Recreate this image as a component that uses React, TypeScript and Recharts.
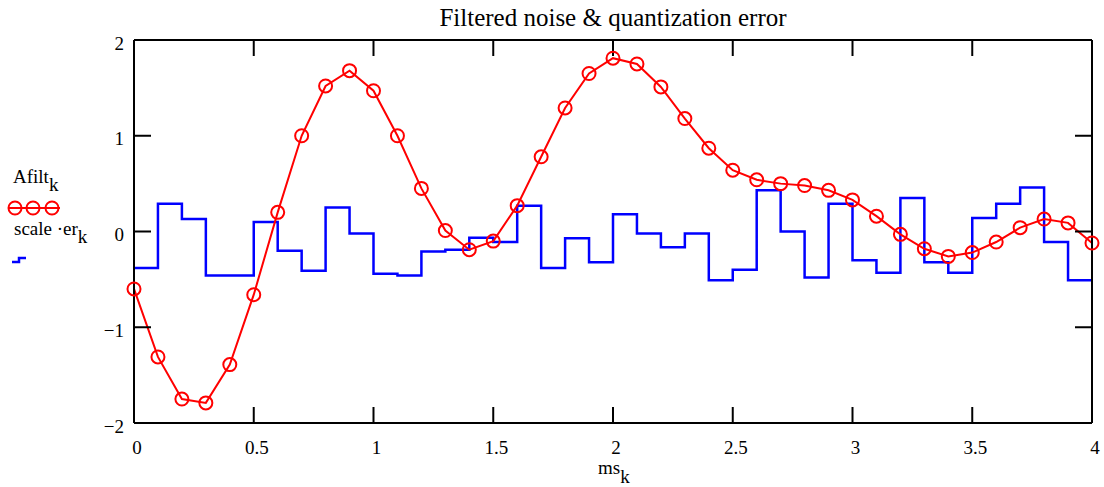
import { ComposedChart, Line, XAxis, YAxis } from 'recharts';

// time axis ms_k, k = 0..40
const ms = [
  0, 0.1, 0.2, 0.3, 0.4, 0.5, 0.6, 0.7, 0.8, 0.9,
  1, 1.1, 1.2, 1.3, 1.4, 1.5, 1.6, 1.7, 1.8, 1.9,
  2, 2.1, 2.2, 2.3, 2.4, 2.5, 2.6, 2.7, 2.8, 2.9,
  3, 3.1, 3.2, 3.3, 3.4, 3.5, 3.6, 3.7, 3.8, 3.9, 4,
];

// filtered noise (red, circles)
const afilt = [
  -0.6, -1.31, -1.75, -1.79, -1.39, -0.66, 0.2, 1.0, 1.52, 1.68,
  1.47, 1.0, 0.45, 0.01, -0.19, -0.1, 0.27, 0.78, 1.29, 1.65,
  1.81, 1.75, 1.51, 1.18, 0.87, 0.64, 0.54, 0.5, 0.48, 0.43,
  0.33, 0.16, -0.03, -0.18, -0.26, -0.22, -0.11, 0.04, 0.13, 0.09, -0.12,
];

// scaled quantization error (blue, step); last value repeats to close the final step
const scaleEr = [
  -0.38, 0.29, 0.13, -0.46, -0.46, 0.1, -0.2, -0.41, 0.25, -0.02,
  -0.44, -0.46, -0.21, -0.19, -0.065, -0.11, 0.27, -0.38, -0.07, -0.32,
  0.18, -0.02, -0.165, -0.02, -0.51, -0.4, 0.43, 0.0, -0.48, 0.29,
  -0.3, -0.43, 0.35, -0.32, -0.43, 0.14, 0.29, 0.46, -0.11, -0.51, -0.51,
];

const xTicks = [0, 0.5, 1, 1.5, 2, 2.5, 3, 3.5, 4];
const yTicks = [-2, -1, 0, 1, 2];

const FONT = '"Liberation Serif", "Times New Roman", serif';
const RED = '#ff0000';
const BLUE = '#0000ff';

const data = ms.map((m, i) => ({ ms: m, afilt: afilt[i], scaleEr: scaleEr[i] }));

const fmtY = (v: number) => (v < 0 ? `\u2212${-v}` : `${v}`);

const tickStyle = { fill: '#000', fontSize: 19, fontFamily: FONT };
const axisLine = { stroke: '#000', strokeWidth: 2 };
const noLabel = () => <g />;

export default function App() {
  return (
    <div style={{ position: 'absolute', left: 0, top: 0, width: 1104, height: 487, background: '#fff' }}>
      <ComposedChart
        width={1104}
        height={487}
        data={data}
        margin={{ top: 38, right: 0, left: 0, bottom: 0 }}
      >
        <XAxis
          xAxisId={0}
          dataKey="ms"
          type="number"
          domain={[0, 4]}
          ticks={xTicks}
          interval={0}
          height={64}
          tickSize={-16}
          tickMargin={34}
          axisLine={axisLine}
          tickLine={axisLine}
          tick={{ ...tickStyle, dx: 3 }}
        />
        <XAxis
          xAxisId="top"
          dataKey="ms"
          type="number"
          orientation="top"
          domain={[0, 4]}
          ticks={xTicks}
          interval={0}
          height={2}
          tickSize={-16}
          tick={noLabel}
          axisLine={axisLine}
          tickLine={axisLine}
        />
        <YAxis
          yAxisId={0}
          type="number"
          domain={[-2, 2]}
          ticks={yTicks}
          interval={0}
          width={134}
          tickSize={-17}
          tickMargin={27}
          tickFormatter={fmtY}
          axisLine={axisLine}
          tickLine={axisLine}
          tick={{ ...tickStyle, dy: 3 }}
        />
        <YAxis
          yAxisId="right"
          type="number"
          orientation="right"
          domain={[-2, 2]}
          ticks={yTicks}
          interval={0}
          width={12}
          tickSize={-17}
          tick={noLabel}
          axisLine={axisLine}
          tickLine={axisLine}
        />
        {/* step series is bound to the top/right axes (same domains) so the full frame is drawn */}
        <Line
          xAxisId="top"
          yAxisId="right"
          type="stepAfter"
          dataKey="scaleEr"
          stroke={BLUE}
          strokeWidth={2.5}
          dot={false}
          isAnimationActive={false}
        />
        <Line
          xAxisId={0}
          yAxisId={0}
          type="linear"
          dataKey="afilt"
          stroke={RED}
          strokeWidth={2}
          dot={{ r: 6.5, stroke: RED, strokeWidth: 2, fill: 'none' }}
          isAnimationActive={false}
        />
      </ComposedChart>

      {/* title, legend and x label */}
      <svg
        width={1104}
        height={487}
        style={{ position: 'absolute', left: 0, top: 0, pointerEvents: 'none' }}
        fontFamily={FONT}
      >
        <text x={613} y={26} textAnchor="middle" fontSize={25} fill="#000">
          Filtered noise &amp; quantization error
        </text>

        <text x={13} y={183} fontSize={19} fill="#000">
          Afilt<tspan dy={8}>k</tspan>
        </text>
        <line x1={9} y1={208} x2={60} y2={208} stroke={RED} strokeWidth={2} />
        {[15, 33, 52].map((cx) => (
          <circle key={cx} cx={cx} cy={208} r={6.5} stroke={RED} strokeWidth={2} fill="none" />
        ))}
        <text x={14} y={235} fontSize={19} fill="#000">
          scale {'\u00b7'}er<tspan dy={8}>k</tspan>
        </text>
        <polyline points="12,262 19,262 19,258 26,258" stroke={BLUE} strokeWidth={2.5} fill="none" />

        <text x={598} y={474} fontSize={19} fill="#000">
          ms<tspan dy={9}>k</tspan>
        </text>
      </svg>
    </div>
  );
}
